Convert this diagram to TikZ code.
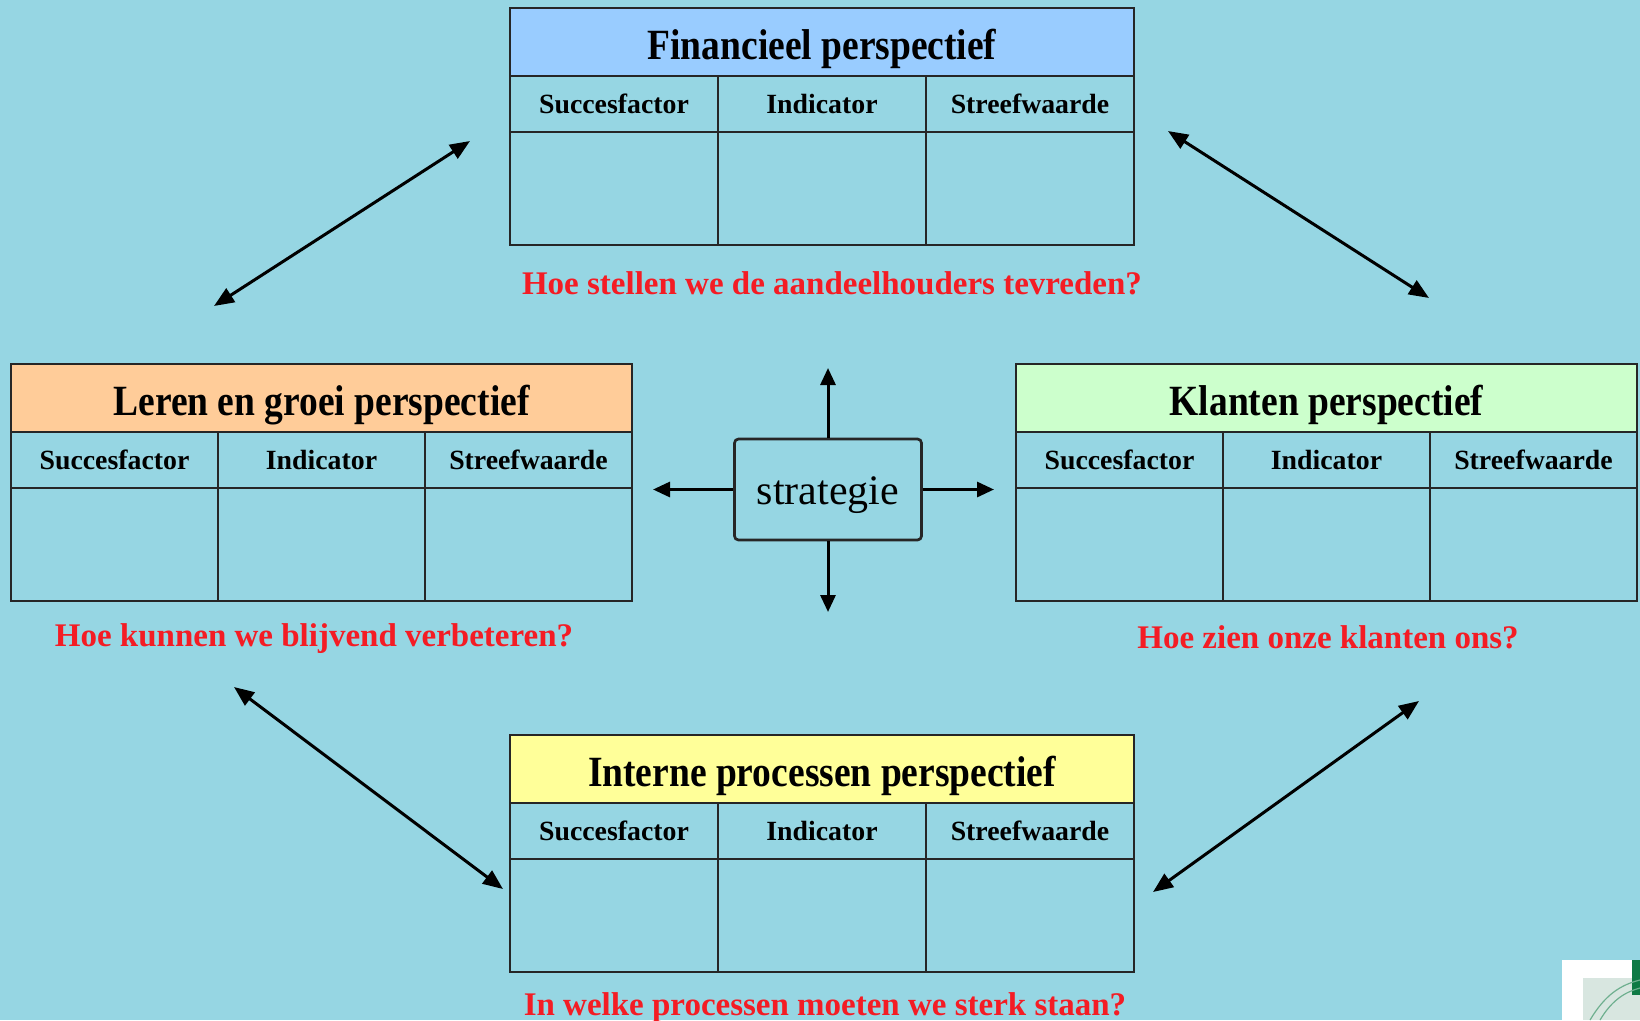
\documentclass[tikz,border=0pt]{standalone}
\usepackage{fontspec}
\setmainfont{Liberation Serif}
\usetikzlibrary{arrows.meta}
\definecolor{bg}{HTML}{96D6E3}
\definecolor{tblue}{HTML}{99CCFF}
\definecolor{torange}{HTML}{FFCC99}
\definecolor{tgreen}{HTML}{CCFFCC}
\definecolor{tyellow}{HTML}{FFFF99}
\definecolor{qred}{HTML}{F41C24}
\definecolor{logogreen}{HTML}{0E7A45}
\definecolor{logogray}{HTML}{D8E6E0}
\newcommand{\ptable}[6]{%
  \node[titlebox, fill=#4, minimum width=3*#6pt] (#1t) at (#2,#3) {\raisebox{-7pt}[\height][\depth]{\scalebox{1}[1.15]{#5}}};
  \node[hcell, minimum width=#6pt, anchor=north west] (#1h1) at (#1t.south west) {Succesfactor};
  \node[hcell, minimum width=#6pt, anchor=west] (#1h2) at (#1h1.east) {Indicator};
  \node[hcell, minimum width=#6pt, anchor=west] (#1h3) at (#1h2.east) {Streefwaarde};
  \node[bcell, minimum width=#6pt, anchor=north] (#1b1) at (#1h1.south) {};
  \node[bcell, minimum width=#6pt, anchor=north] (#1b2) at (#1h2.south) {};
  \node[bcell, minimum width=#6pt, anchor=north] (#1b3) at (#1h3.south) {};
}
\begin{document}
\begin{tikzpicture}[x=1pt,y=-1pt,
  titlebox/.style={draw=black!85, line width=2.7pt, minimum height=68pt, inner sep=0pt, outer sep=0pt, anchor=north west, font=\fontsize{37.5}{42}\selectfont\bfseries},
  hcell/.style={draw=black!85, line width=2.7pt, fill=bg, minimum height=56pt, inner sep=0pt, outer sep=0pt, font=\fontsize{27.8}{32}\selectfont\bfseries},
  bcell/.style={draw=black!85, line width=2.7pt, fill=bg, minimum height=113pt, inner sep=0pt, outer sep=0pt},
  question/.style={text=qred, inner sep=0pt, font=\fontsize{33}{38}\selectfont\bfseries},
  arr/.style={line width=3pt, -{Triangle[length=17pt,width=15pt]}},
  dbl/.style={line width=3pt, {Triangle[length=20pt,width=16pt]}-{Triangle[length=20pt,width=16pt]}},
  stratbox/.style={draw=black!85, line width=2.7pt, rounded corners=4pt, minimum width=187pt, minimum height=101pt, inner sep=0pt, font=\fontsize{42}{46}\selectfont}
]
\fill[bg] (0,0) rectangle (1640,1020);
\useasboundingbox (0,0) rectangle (1640,1020);

% tables
\ptable{fin}{510}{8}{tblue}{Financieel perspectief}{208}
\ptable{ler}{11}{364}{torange}{Leren en groei perspectief}{207}
\ptable{kla}{1016}{364}{tgreen}{Klanten perspectief}{207}
\ptable{int}{510}{735}{tyellow}{Interne processen perspectief}{208}

% questions
\node[question] (qfin) at (832,283) {Hoe stellen we de aandeelhouders tevreden?};
\node[question] (qler) at (314,639) {Hoe kunnen we blijvend verbeteren?};
\node[question] (qkla) at (1328,637) {Hoe zien onze klanten ons?};
\node[question] (qint) at (825,1008) {In welke processen moeten we sterk staan?};

% strategy
\node[stratbox] (strat) at (828,489.5) {\raisebox{-6pt}[\height][\depth]{strategie}};
\coordinate (su) at (828,368);
\coordinate (sd) at (828,612);
\coordinate (sl) at (653,489.5);
\coordinate (sr) at (994,489.5);
\draw[arr] (strat.north) -- (su);
\draw[arr] (strat.south) -- (sd);
\draw[arr] (strat.west) -- (sl);
\draw[arr] (strat.east) -- (sr);

% diagonal arrows
\coordinate (tl1) at (214,306);
\coordinate (tl2) at (470,141);
\coordinate (tr1) at (1168,131);
\coordinate (tr2) at (1429,298);
\coordinate (bl1) at (234,687);
\coordinate (bl2) at (503,889);
\coordinate (br1) at (1419,701);
\coordinate (br2) at (1153,892);
\draw[dbl] (tl1) -- (tl2);
\draw[dbl] (tr1) -- (tr2);
\draw[dbl] (bl1) -- (bl2);
\draw[dbl] (br1) -- (br2);

% logo fragment
\fill[white] (1562,960) rectangle (1640,1020);
\fill[logogray] (1583,978) rectangle (1640,1020);
\fill[logogreen] (1632,960) rectangle (1640,995);
\draw[logogreen!60, line width=1.2pt] (1600,1020) .. controls (1612,1000) and (1625,992) .. (1640,988);
\draw[logogreen!60, line width=1.2pt] (1590,1020) .. controls (1605,995) and (1620,985) .. (1640,980);
\end{tikzpicture}
\end{document}
